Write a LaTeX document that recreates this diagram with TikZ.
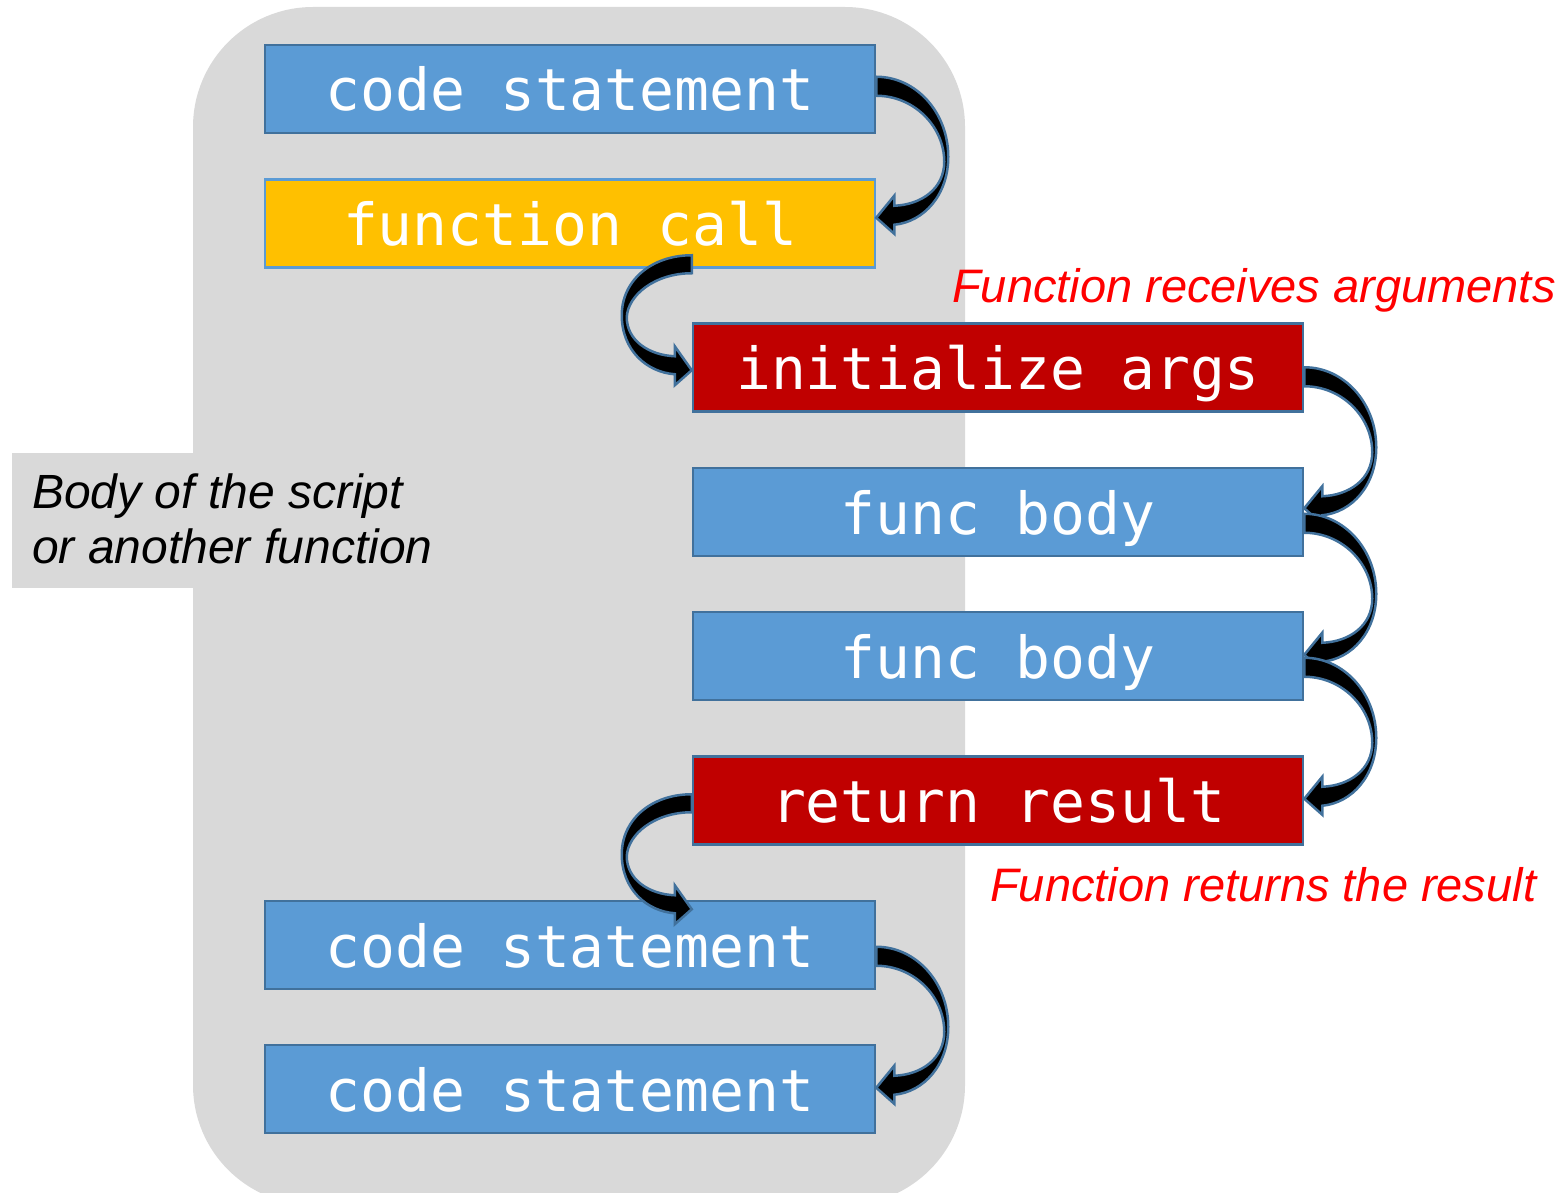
\documentclass[tikz,border=0pt]{standalone}
\usepackage{fontspec}
\setmainfont{Liberation Sans}
\setmonofont{DejaVu Sans Mono}
\usetikzlibrary{calc}
\definecolor{boxblue}{HTML}{5B9BD5}
\definecolor{edgeblue}{HTML}{41719C}
\definecolor{boxyellow}{HTML}{FFC000}
\definecolor{boxred}{HTML}{C00000}
\definecolor{panelgray}{HTML}{D9D9D9}
\definecolor{labelred}{HTML}{FF0000}
\tikzset{
  codebox/.style={draw=edgeblue, line width=2.5pt, minimum width=610pt, minimum height=88pt,
    inner sep=0pt, text=white, font=\fontsize{58}{60}\selectfont\ttfamily,
    text height=44pt, text depth=0pt},
  bluebox/.style={codebox, fill=boxblue},
  yellowbox/.style={codebox, fill=boxyellow, draw=boxblue},
  redbox/.style={codebox, fill=boxred},
  curvearrow/.style={fill=black, draw=edgeblue, line width=2.5pt, line join=miter},
  sidelabel/.style={anchor=base west, inner sep=0pt, font=\fontsize{48}{55}\selectfont\itshape},
  notelabel/.style={anchor=base west, inner sep=0pt, text=labelred, font=\fontsize{47}{55}\selectfont\itshape},
}
\newcommand{\curveRight}[1]{%
  \begin{scope}[shift={#1}]
    \path[curvearrow] (0,0) .. controls (40,0) and (72,36) .. (72,80)
      .. controls (72,118) and (48,145) .. (18,148) -- (18,157) -- (0,141) -- (18,119) -- (18,129)
      .. controls (45,128) and (68,112) .. (68,85) .. controls (68,50) and (38,19) .. (0,19) -- cycle;
  \end{scope}}
\newcommand{\curveLeft}[1]{%
  \begin{scope}[shift={#1}]
    \path[curvearrow] (0,0) .. controls (-40,0) and (-70,25) .. (-70,60)
      .. controls (-70,95) and (-45,117) .. (-17,119) -- (-17,130) -- (0,115) -- (-17,91) -- (-17,101)
      .. controls (-43,100) and (-65,85) .. (-65,62) .. controls (-64,40) and (-37,18) .. (0,18) -- cycle;
  \end{scope}}
\begin{document}
\begin{tikzpicture}[x=1pt, y=-1pt]
  \useasboundingbox (0,0) rectangle (1568,1193);
  % panel
  \fill[panelgray, rounded corners=120pt] (193,7) rectangle (965,1205);
  \fill[panelgray] (12,453) rectangle (200,588);
  \node[sidelabel] (lbl1) at (32,508) {Body of the script};
  \node[sidelabel] (lbl2) at (32,563) {or another function};
  % boxes
  \node[bluebox]   (b1) at (570,89)    {code statement};
  \node[yellowbox] (b2) at (570,223.5) {function call};
  \node[redbox]    (b3) at (998,367.5) {initialize args};
  \node[bluebox]   (b4) at (998,512)   {func body};
  \node[bluebox]   (b5) at (998,656)   {func body};
  \node[redbox]    (b6) at (998,800.5) {return result};
  \node[bluebox]   (b7) at (570,945)   {code statement};
  \node[bluebox]   (b8) at (570,1089)  {code statement};
  % notes
  \node[notelabel] (n1) at (952,302) {Function receives arguments};
  \node[notelabel] (n2) at (990,901) {Function returns the result};
  % arrows
  \curveRight{($(b1.north east)+(0,33)$)}
  \curveLeft{($(b3.north west)+(0,-67)$)}
  \curveRight{($(b3.north east)+(0,45)$)}
  \curveRight{($(b4.north east)+(0,47)$)}
  \curveRight{($(b5.north east)+(0,47)$)}
  \curveLeft{($(b6.north west)+(0,39)$)}
  \curveRight{($(b7.north east)+(0,47)$)}
\end{tikzpicture}
\end{document}
